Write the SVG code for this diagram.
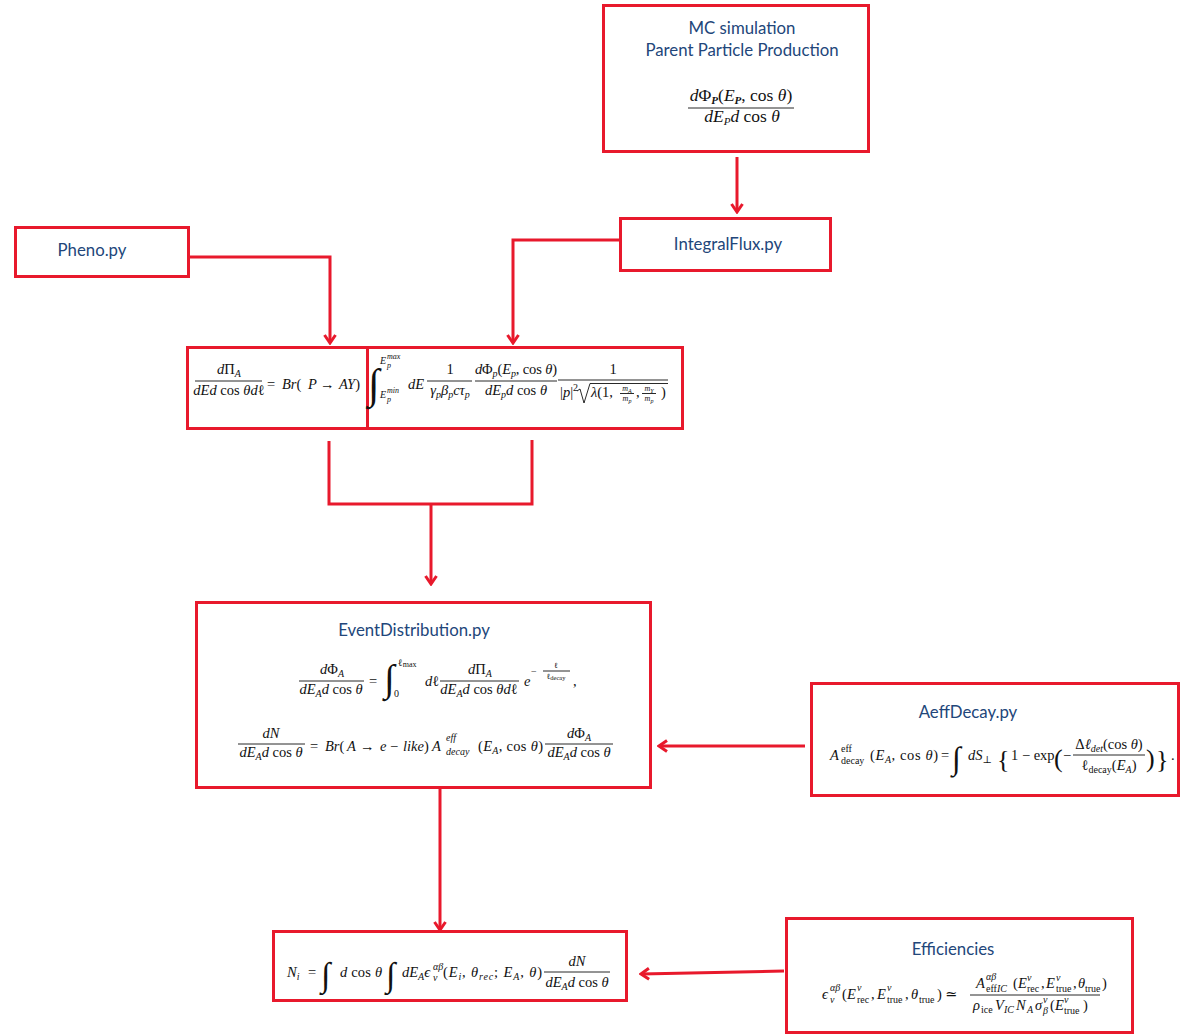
<svg xmlns="http://www.w3.org/2000/svg" width="1185" height="1036" viewBox="0 0 1185 1036">
<style>
.box{fill:none;stroke:#e8192c;stroke-width:3}
.cn{fill:none;stroke:#e8192c;stroke-width:3}
.ar{marker-end:url(#ah)}
.t{font-family:Lato,"Open Sans",sans-serif;font-size:16.8px;fill:#22467a;text-anchor:middle}
.m{font-family:"Liberation Serif","DejaVu Serif",serif;font-size:14.5px;fill:#111}
.i{font-style:italic}
.s{font-size:10px}
.xs{font-size:8px}
.mid{text-anchor:middle}
.fl{stroke:#111;stroke-width:0.9}
</style>
<defs>
<marker id="ah" viewBox="0 0 14 14" refX="12" refY="7" markerWidth="14" markerHeight="14" markerUnits="userSpaceOnUse" orient="auto">
<path d="M4,1.5 L12,7 L4,12.5" fill="none" stroke="#e8192c" stroke-width="3"/>
</marker>
</defs>
<rect width="1185" height="1036" fill="#fff"/>

<g id="connectors">
<line class="cn ar" x1="737" y1="157" x2="737" y2="212"/>
<polyline class="cn ar" points="188,257 330,257 330,343"/>
<polyline class="cn ar" points="620,240 513,240 513,343"/>
<polyline class="cn" points="329,441 329,504 532,504 532,440"/>
<line class="cn ar" x1="431" y1="504" x2="431" y2="584"/>
<line class="cn ar" x1="805" y1="746" x2="659" y2="746"/>
<line class="cn ar" x1="440" y1="788" x2="440" y2="930"/>
<line class="cn ar" x1="784" y1="971" x2="641" y2="974"/>
</g>

<g id="mc">
<rect class="box" x="603.5" y="5.5" width="265" height="146"/>
<text class="t" x="742" y="34">MC simulation</text>
<text class="t" x="742" y="56">Parent Particle Production</text>
<text class="m mid" style="font-size:17.5px" x="741" y="101"><tspan class="i">d</tspan>Φ<tspan class="i s" style="font-size:11px" font-weight="bold" dy="3">P</tspan><tspan dy="-3">(</tspan><tspan class="i">E</tspan><tspan class="i s" style="font-size:11px" font-weight="bold" dy="3">P</tspan><tspan dy="-3">, cos </tspan><tspan class="i">θ</tspan>)</text>
<line class="fl" x1="688" y1="108" x2="794" y2="108"/>
<text class="m mid" style="font-size:17.5px" x="742" y="122"><tspan class="i">dE</tspan><tspan class="i s" style="font-size:11px" dy="3">P</tspan><tspan class="i" dy="-3">d</tspan> cos <tspan class="i">θ</tspan></text>
</g>

<g id="integralflux">
<rect class="box" x="620.5" y="218.5" width="210" height="52"/>
<text class="t" x="728" y="250">IntegralFlux.py</text>
</g>

<g id="pheno">
<rect class="box" x="15.5" y="227.5" width="173" height="49"/>
<text class="t" x="92" y="256">Pheno.py</text>
</g>

<g id="formula-pi">
<rect class="box" x="187.5" y="347.5" width="180" height="81"/>
<rect class="box" x="367.5" y="347.5" width="315" height="81"/>
<text class="m mid" x="229" y="374"><tspan class="i">d</tspan>Π<tspan class="i s" dy="3">A</tspan></text>
<line class="fl" x1="195" y1="381" x2="262" y2="381"/>
<text class="m mid" x="229" y="395"><tspan class="i">dEd</tspan> cos <tspan class="i">θd</tspan>ℓ</text>
<text class="m" x="267" y="389">=<tspan class="i" x="282">Br</tspan>(<tspan class="i" x="308">P</tspan><tspan x="320">→</tspan><tspan class="i" x="339">AY</tspan>)</text>
<text class="m i" style="font-size:42px" x="368" y="398">∫</text>
<text class="m i s" x="380" y="364">E</text>
<text class="m i xs" x="387" y="359">max</text>
<text class="m i xs" x="387" y="368">p</text>
<text class="m i s" x="380" y="398">E</text>
<text class="m i xs" x="387" y="393">min</text>
<text class="m i xs" x="387" y="402">p</text>
<text class="m i" x="408" y="389">dE</text>
<text class="m mid" x="450" y="374">1</text>
<line class="fl" x1="427" y1="381" x2="472" y2="381"/>
<text class="m mid" x="450" y="395"><tspan class="i">γ</tspan><tspan class="i s" dy="3">p</tspan><tspan class="i" dy="-3">β</tspan><tspan class="i s" dy="3">p</tspan><tspan class="i" dy="-3">cτ</tspan><tspan class="i s" dy="3">p</tspan></text>
<text class="m mid" x="516" y="374" textLength="82" lengthAdjust="spacing"><tspan class="i">d</tspan>Φ<tspan class="i s" dy="3">p</tspan><tspan dy="-3">(</tspan><tspan class="i">E</tspan><tspan class="i s" dy="3">p</tspan><tspan dy="-3">, cos </tspan><tspan class="i">θ</tspan>)</text>
<line class="fl" x1="475" y1="381" x2="557" y2="381"/>
<text class="m mid" x="516" y="395"><tspan class="i">dE</tspan><tspan class="i s" dy="3">p</tspan><tspan class="i" dy="-3">d</tspan> cos <tspan class="i">θ</tspan></text>
<text class="m mid" x="613" y="374">1</text>
<line class="fl" x1="558" y1="380" x2="668" y2="380"/>
<text class="m" x="560" y="397">|<tspan class="i">p</tspan>|<tspan class="s" dy="-6">2</tspan></text>
<polyline fill="none" stroke="#111" stroke-width="0.9" points="577,391 580,389 584,403 590,383.5 668,383.5"/>
<text class="m" x="591" y="397"><tspan class="i">λ</tspan>(1,</text>
<text class="m i xs mid" x="627" y="391">m<tspan dy="2" style="font-size:6px">A</tspan></text>
<line class="fl" x1="620" y1="393.5" x2="634" y2="393.5" stroke-width="0.6"/>
<text class="m i xs mid" x="627" y="401">m<tspan dy="2" style="font-size:6px">p</tspan></text>
<text class="m" x="636" y="397">,</text>
<text class="m i xs mid" x="649" y="391">m<tspan dy="2" style="font-size:6px">Y</tspan></text>
<line class="fl" x1="642" y1="393.5" x2="656" y2="393.5" stroke-width="0.6"/>
<text class="m i xs mid" x="649" y="401">m<tspan dy="2" style="font-size:6px">p</tspan></text>
<text class="m" x="661" y="397">)</text>
</g>

<g id="eventdistribution">
<rect class="box" x="196.5" y="602.5" width="454" height="185"/>
<text class="t" x="414" y="636">EventDistribution.py</text>
<text class="m mid" x="332" y="674"><tspan class="i">d</tspan>Φ<tspan class="i s" dy="3">A</tspan></text>
<line class="fl" x1="299" y1="681" x2="364" y2="681"/>
<text class="m mid" x="331" y="694"><tspan class="i">dE</tspan><tspan class="i s" dy="3">A</tspan><tspan class="i" dy="-3">d</tspan> cos <tspan class="i">θ</tspan></text>
<text class="m" x="369" y="686">=</text>
<text class="m i" style="font-size:38px" x="384" y="691">∫</text>
<text class="m s" x="398" y="666">ℓ<tspan class="xs" dy="1">max</tspan></text>
<text class="m s" x="394" y="697">0</text>
<text class="m i" x="425" y="686">d<tspan font-style="normal">ℓ</tspan></text>
<text class="m mid" x="480" y="674"><tspan class="i">d</tspan>Π<tspan class="i s" dy="3">A</tspan></text>
<line class="fl" x1="440" y1="681" x2="519" y2="681"/>
<text class="m mid" x="479" y="694"><tspan class="i">dE</tspan><tspan class="i s" dy="3">A</tspan><tspan class="i" dy="-3">d</tspan> cos <tspan class="i">θd</tspan>ℓ</text>
<text class="m i" x="524" y="686">e</text>
<text class="m s" x="531" y="675">−</text>
<text class="m xs mid" x="556" y="668">ℓ</text>
<line class="fl" x1="543" y1="671" x2="570" y2="671" stroke-width="0.6"/>
<text class="m xs mid" x="556" y="679">ℓ<tspan dy="1" style="font-size:6.5px">decay</tspan></text>
<text class="m" x="573" y="686">,</text>
<text class="m mid" x="271" y="738"><tspan class="i">dN</tspan></text>
<line class="fl" x1="238" y1="744" x2="305" y2="744"/>
<text class="m mid" x="271" y="757"><tspan class="i">dE</tspan><tspan class="i s" dy="3">A</tspan><tspan class="i" dy="-3">d</tspan> cos <tspan class="i">θ</tspan></text>
<text class="m" x="310" y="751">=<tspan class="i" x="325">Br</tspan>(<tspan class="i" x="347">A</tspan><tspan x="360">→</tspan><tspan class="i" x="380">e</tspan><tspan x="390">−</tspan><tspan class="i" x="403">like</tspan>)<tspan class="i" x="432">A</tspan></text>
<text class="m i s" x="446" y="741">eff</text>
<text class="m i s" x="446" y="755">decay</text>
<text class="m" x="478" y="751" textLength="65" lengthAdjust="spacing">(<tspan class="i">E</tspan><tspan class="i s" dy="3">A</tspan><tspan dy="-3">, cos </tspan><tspan class="i">θ</tspan>)</text>
<text class="m mid" x="579" y="738"><tspan class="i">d</tspan>Φ<tspan class="i s" dy="3">A</tspan></text>
<line class="fl" x1="545" y1="744" x2="613" y2="744"/>
<text class="m mid" x="579" y="757"><tspan class="i">dE</tspan><tspan class="i s" dy="3">A</tspan><tspan class="i" dy="-3">d</tspan> cos <tspan class="i">θ</tspan></text>
</g>

<g id="aeffdecay">
<rect class="box" x="811.5" y="683.5" width="367" height="112"/>
<text class="t" x="968" y="718">AeffDecay.py</text>
<text class="m i" x="830" y="760">A</text>
<text class="m s" x="841" y="752">eff</text>
<text class="m s" x="841" y="764">decay</text>
<text class="m" x="870" y="760" textLength="68" lengthAdjust="spacing">(<tspan class="i">E</tspan><tspan class="i s" dy="3">A</tspan><tspan dy="-3">, cos </tspan><tspan class="i">θ</tspan>)</text>
<text class="m" x="941" y="760">=</text>
<text class="m i" style="font-size:32px" x="952" y="769">∫</text>
<text class="m" x="968" y="760"><tspan class="i">dS</tspan><tspan class="s" dy="3">⊥</tspan></text>
<text class="m" style="font-size:26px" x="997" y="768">{</text>
<text class="m" x="1011" y="760">1 − exp</text>
<text class="m" style="font-size:26px" x="1054" y="767">(</text>
<text class="m" x="1063" y="760">−</text>
<text class="m mid" x="1109" y="749">Δ<tspan class="i">ℓ</tspan><tspan class="i s" dy="3">det</tspan><tspan dy="-3">(cos </tspan><tspan class="i">θ</tspan>)</text>
<line class="fl" x1="1073" y1="755" x2="1145" y2="755"/>
<text class="m mid" x="1109" y="770">ℓ<tspan class="s" dy="3">decay</tspan><tspan dy="-3">(</tspan><tspan class="i">E</tspan><tspan class="i s" dy="3">A</tspan><tspan dy="-3">)</tspan></text>
<text class="m" style="font-size:26px" x="1146" y="767">)</text>
<text class="m" style="font-size:26px" x="1156" y="768">}</text>
<text class="m" x="1171" y="760">.</text>
</g>

<g id="ni">
<rect class="box" x="273.5" y="931.5" width="353" height="69"/>
<text class="m" x="287" y="977"><tspan class="i">N</tspan><tspan class="i s" dy="3">i</tspan><tspan x="308" dy="-3">=</tspan></text>
<text class="m i" style="font-size:34px" x="321" y="986">∫</text>
<text class="m" x="340" y="977" textLength="42" lengthAdjust="spacing"><tspan class="i">d</tspan> cos <tspan class="i">θ</tspan></text>
<text class="m i" style="font-size:34px" x="386" y="986">∫</text>
<text class="m i" x="402" y="977">dE<tspan class="s" dy="3">A</tspan><tspan dy="-3">ϵ</tspan></text>
<text class="m i s" x="433" y="970">αβ</text>
<text class="m i s" x="433" y="981">ν</text>
<text class="m" x="443" y="977" textLength="99" lengthAdjust="spacing">(<tspan class="i">E</tspan><tspan class="i s" dy="3">i</tspan><tspan dy="-3">, </tspan><tspan class="i">θ</tspan><tspan class="i s" dy="3">rec</tspan><tspan dy="-3">; </tspan><tspan class="i">E</tspan><tspan class="i s" dy="3">A</tspan><tspan dy="-3">, </tspan><tspan class="i">θ</tspan>)</text>
<text class="m mid" x="577" y="966"><tspan class="i">dN</tspan></text>
<line class="fl" x1="544" y1="972" x2="610" y2="972"/>
<text class="m mid" x="577" y="987"><tspan class="i">dE</tspan><tspan class="i s" dy="3">A</tspan><tspan class="i" dy="-3">d</tspan> cos <tspan class="i">θ</tspan></text>
</g>

<g id="efficiencies">
<rect class="box" x="786.5" y="918.5" width="346" height="114"/>
<text class="t" x="953" y="955">Efficiencies</text>
<text class="m" x="822" y="999"><tspan class="i">ϵ</tspan><tspan class="i s" x="830" y="991">αβ</tspan><tspan class="i s" x="830" y="1003">ν</tspan><tspan x="842" y="999">(</tspan><tspan class="i" x="847">E</tspan><tspan class="i s" x="857" y="991">ν</tspan><tspan class="s" x="857" y="1003">rec</tspan><tspan x="871" y="999">,</tspan><tspan class="i" x="877">E</tspan><tspan class="i s" x="887" y="991">ν</tspan><tspan class="s" x="887" y="1003">true</tspan><tspan x="905" y="999">,</tspan><tspan class="i" x="911">θ</tspan><tspan class="s" x="919" y="1003">true</tspan><tspan x="937" y="999">)</tspan><tspan x="945">≃</tspan></text>
<line class="fl" x1="970" y1="995" x2="1100" y2="995"/>
<text class="m" x="976" y="988"><tspan class="i">A</tspan><tspan class="i s" x="986" y="980">αβ</tspan><tspan class="s" x="986" y="992">eff</tspan><tspan class="i s">IC</tspan><tspan x="1013" y="988">(</tspan><tspan class="i" x="1018">E</tspan><tspan class="i s" x="1027" y="981">ν</tspan><tspan class="s" x="1027" y="992">rec</tspan><tspan x="1041" y="988">,</tspan><tspan class="i" x="1046">E</tspan><tspan class="i s" x="1056" y="981">ν</tspan><tspan class="s" x="1056" y="992">true</tspan><tspan x="1073" y="988">,</tspan><tspan class="i" x="1078">θ</tspan><tspan class="s" x="1085" y="992">true</tspan><tspan x="1102" y="988">)</tspan></text>
<text class="m" x="973" y="1010"><tspan class="i">ρ</tspan><tspan class="s" x="981" y="1013">ice</tspan><tspan class="i" x="995" y="1010">V</tspan><tspan class="i s" x="1004" y="1013">IC</tspan><tspan class="i" x="1016" y="1010">N</tspan><tspan class="i s" x="1027" y="1013">A</tspan><tspan class="i" x="1035" y="1010">σ</tspan><tspan class="i s" x="1043" y="1003">ν</tspan><tspan class="i s" x="1043" y="1014">β</tspan><tspan x="1050" y="1010">(</tspan><tspan class="i" x="1055">E</tspan><tspan class="i s" x="1064" y="1003">ν</tspan><tspan class="s" x="1064" y="1014">true</tspan><tspan x="1083" y="1010">)</tspan></text>
</g>
</svg>
